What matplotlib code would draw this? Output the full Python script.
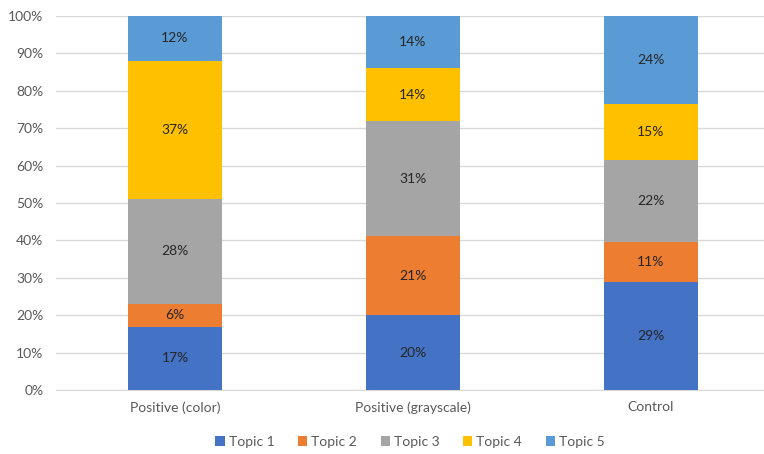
import matplotlib
matplotlib.use("Agg")
import matplotlib.pyplot as plt
import numpy as np

categories = ["Positive (color)", "Positive (grayscale)", "Control"]
topics = ["Topic 1", "Topic 2", "Topic 3", "Topic 4", "Topic 5"]
topic1 = [16.9, 20.0, 28.9]
topic2 = [6.2, 21.2, 10.7]
topic3 = [28.0, 30.7, 21.8]
topic4 = [36.9, 14.2, 15.0]
topic5 = [12.0, 13.9, 23.6]
series = [topic1, topic2, topic3, topic4, topic5]
colors = ["#4472C4", "#ED7D31", "#A5A5A5", "#FFC000", "#5B9BD5"]
yticks = [0, 10, 20, 30, 40, 50, 60, 70, 80, 90, 100]

plt.rcParams['font.family'] = ['Lato', 'DejaVu Sans']

fig = plt.figure(figsize=(7.64, 4.54), dpi=100)
ax = fig.add_axes([56/764, 64/454, 708/764, 374/454])

x = np.arange(len(categories))
data = np.array(series, dtype=float)
totals = data.sum(axis=0)
bottom = np.zeros(len(categories))
for i, (name, vals) in enumerate(zip(topics, data)):
    pct = vals / totals * 100
    ax.bar(x, pct, width=0.395, bottom=bottom, color=colors[i], label=name, zorder=3)
    for xi, b, p, v in zip(x, bottom, pct, vals):
        ax.text(xi, b + p / 2, f"{round(v):d}%", ha="center", va="center",
                fontsize=10, color="#262626", zorder=4)
    bottom += pct

ax.set_xlim(-0.5, 2.5 - 6/238)
ax.set_ylim(0, 100)
ax.set_yticks(yticks)
ax.set_yticklabels([f"{t}%" for t in yticks])
ax.set_xticks(x)
ax.set_xticklabels(categories)
ax.yaxis.grid(True, color="#D9D9D9", linewidth=1, zorder=0)
for s in ["top", "right", "left"]:
    ax.spines[s].set_visible(False)
ax.spines["bottom"].set_color("#D9D9D9")
ax.tick_params(axis="both", length=0, labelsize=10, colors="#595959")
ax.tick_params(axis="x", pad=8)
ax.tick_params(axis="y", pad=9)

handles, labels = ax.get_legend_handles_labels()
fig.legend(handles, labels, loc="center", bbox_to_anchor=(410/764, 1 - 442/454),
           ncol=5, frameon=False, fontsize=10, handlelength=0.65, handleheight=0.65,
           handletextpad=0.3, columnspacing=1.7, labelcolor="#595959")

fig.savefig("out.png", dpi=100)
